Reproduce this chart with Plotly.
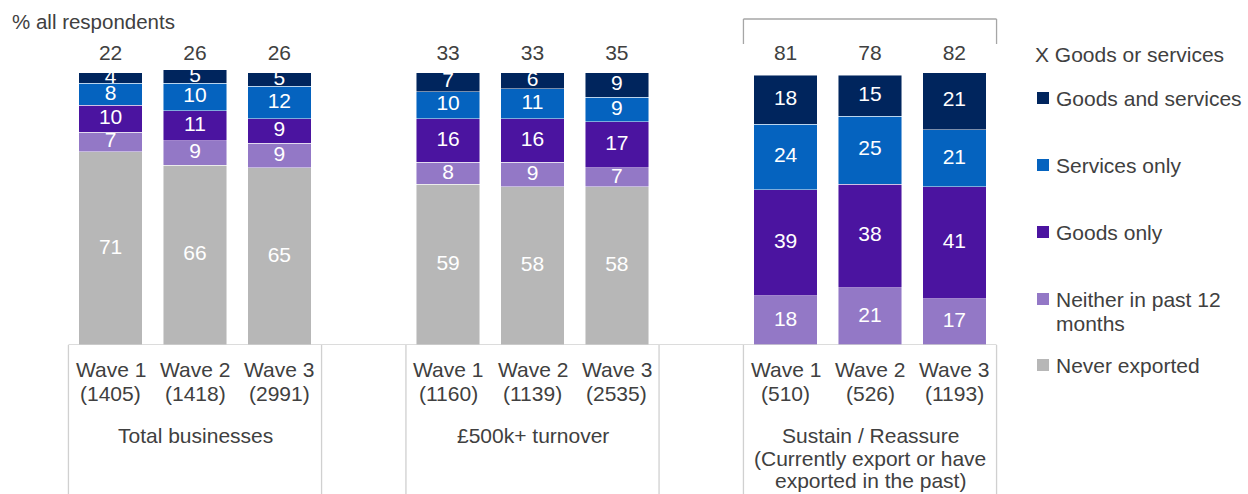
import plotly.graph_objects as go

# ---------------- data ----------------
wave_labels = ["Wave 1", "Wave 2", "Wave 3"] * 3
base_sizes = ["(1405)", "(1418)", "(2991)",
              "(1160)", "(1139)", "(2535)",
              "(510)", "(526)", "(1193)"]
group_labels = ["Total businesses", "£500k+ turnover",
                "Sustain / Reassure<br>(Currently export or have<br>exported in the past)"]
x_pos = [0, 1, 2, 4, 5, 6, 8, 9, 10]

never_exported = [71, 66, 65, 59, 58, 58, None, None, None]
neither_12m = [7, 9, 9, 8, 9, 7, 18, 21, 17]
goods_only = [10, 11, 9, 16, 16, 17, 39, 38, 41]
services_only = [8, 10, 12, 10, 11, 9, 24, 25, 21]
goods_and_services = [4, 5, 5, 7, 6, 9, 18, 15, 21]
totals_x = [22, 26, 26, 33, 33, 35, 81, 78, 82]

series = [
    ("Never exported", never_exported, "#B7B7B7"),
    ("Neither in past 12<br>months", neither_12m, "#9378C6"),
    ("Goods only", goods_only, "#4B14A0"),
    ("Services only", services_only, "#0563BF"),
    ("Goods and services", goods_and_services, "#00255D"),
]

FONT = "Arial, Liberation Sans, sans-serif"
TXT = "#404040"
FS = 21

# ---------------- geometry helpers ----------------
W, H = 1248, 494
ML, MR, MT, MB = 60, 243, 18, 149
PW, PH = W - ML - MR, H - MT - MB
YMAX = 120
def ypx(p):      # pixel row -> data y
    return (H - MB - p) / (PH / YMAX)
def px_x(p):     # pixel column -> paper x
    return (p - ML) / PW
def px_y(p):     # pixel row -> paper y
    return (H - MB - p) / PH

fig = go.Figure()
cum = [0] * len(x_pos)
for name, vals, col in series:
    ys = [v if v is not None else 0 for v in vals]
    fig.add_trace(go.Bar(
        x=x_pos, y=ys, name=name, marker_color=col,
        marker_line=dict(color="rgba(255,255,255,0.6)", width=0.8),
        width=0.75, showlegend=False, hoverinfo="skip"))
    mids = [c + v / 2 for c, v in zip(cum, ys)]
    txt = [str(v) if v else "" for v in vals]
    fig.add_trace(go.Scatter(
        x=x_pos, y=mids, text=txt, mode="text",
        textfont=dict(color="white", size=FS, family=FONT),
        showlegend=False, hoverinfo="skip", cliponaxis=False))
    cum = [c + v for c, v in zip(cum, ys)]

# totals above bars
fig.add_trace(go.Scatter(
    x=x_pos, y=[ypx(55)] * len(x_pos), text=[str(t) for t in totals_x],
    mode="text", textfont=dict(color=TXT, size=FS, family=FONT),
    showlegend=False, hoverinfo="skip", cliponaxis=False))

shapes = []
line_col = "#D0D0D0"
# axis line
shapes.append(dict(type="line", xref="x", yref="y", x0=-0.5, x1=10.5, y0=0, y1=0,
                   line=dict(color=line_col, width=1.3)))
# group dividers
for xv in [-0.5, 2.5, 3.5, 6.5, 7.5, 10.5]:
    shapes.append(dict(type="line", xref="x", yref="paper", x0=xv, x1=xv,
                       y0=0, y1=px_y(H + 2), line=dict(color=line_col, width=1.3)))
# bracket above third group
bcol = "#A6A6A6"
shapes.append(dict(type="line", xref="x", yref="y", x0=7.5, x1=10.5,
                   y0=ypx(19), y1=ypx(19), line=dict(color=bcol, width=1.3)))
for xv in [7.5, 10.5]:
    shapes.append(dict(type="line", xref="x", yref="y", x0=xv, x1=xv,
                       y0=ypx(19), y1=ypx(44), line=dict(color=bcol, width=1.3)))

annotations = []
def ann(x, py, text, xref="x", xanchor="center", size=FS):
    annotations.append(dict(x=x, y=px_y(py), xref=xref, yref="paper", text=text,
                            xanchor=xanchor, yanchor="middle", showarrow=False,
                            font=dict(size=size, color=TXT, family=FONT)))

for xv, wl, bs in zip(x_pos, wave_labels, base_sizes):
    ann(xv, 370, wl)
    ann(xv, 393, bs)
for gi, gl in enumerate(group_labels):
    for li, line in enumerate(gl.split("<br>")):
        ann(1 + 4 * gi, 435 + 23 * li, line)

ann(px_x(10), 22, "% all respondents", xref="paper", xanchor="left", size=FS - 0.5)

# legend (manual)
ann(px_x(1033), 54, "X Goods or services", xref="paper", xanchor="left")
leg_rows = [("Goods and services", 98), ("Services only", 165), ("Goods only", 232),
            ("Neither in past 12<br>months", 299), ("Never exported", 365)]
col_map = {n: c for n, _, c in series}
for name, py in leg_rows:
    col = col_map[name]
    shapes.append(dict(type="rect", xref="paper", yref="paper",
                       x0=px_x(1037), x1=px_x(1049), y0=px_y(py - 6), y1=px_y(py + 6),
                       fillcolor=col, line=dict(width=0)))
    for li, line in enumerate(name.split("<br>")):
        ann(px_x(1054), py + 24 * li, line, xref="paper", xanchor="left")

fig.update_layout(
    barmode="stack", bargap=0.25,
    width=W, height=H,
    margin=dict(l=ML, r=MR, t=MT, b=MB, pad=0),
    paper_bgcolor="white", plot_bgcolor="white",
    xaxis=dict(range=[-0.6, 10.6], visible=False, fixedrange=True),
    yaxis=dict(range=[0, YMAX], visible=False, fixedrange=True),
    shapes=shapes, annotations=annotations,
    font=dict(family=FONT),
)

fig.write_html("out.html", post_script="document.body.style.margin='0';",
               config={"displayModeBar": False})
